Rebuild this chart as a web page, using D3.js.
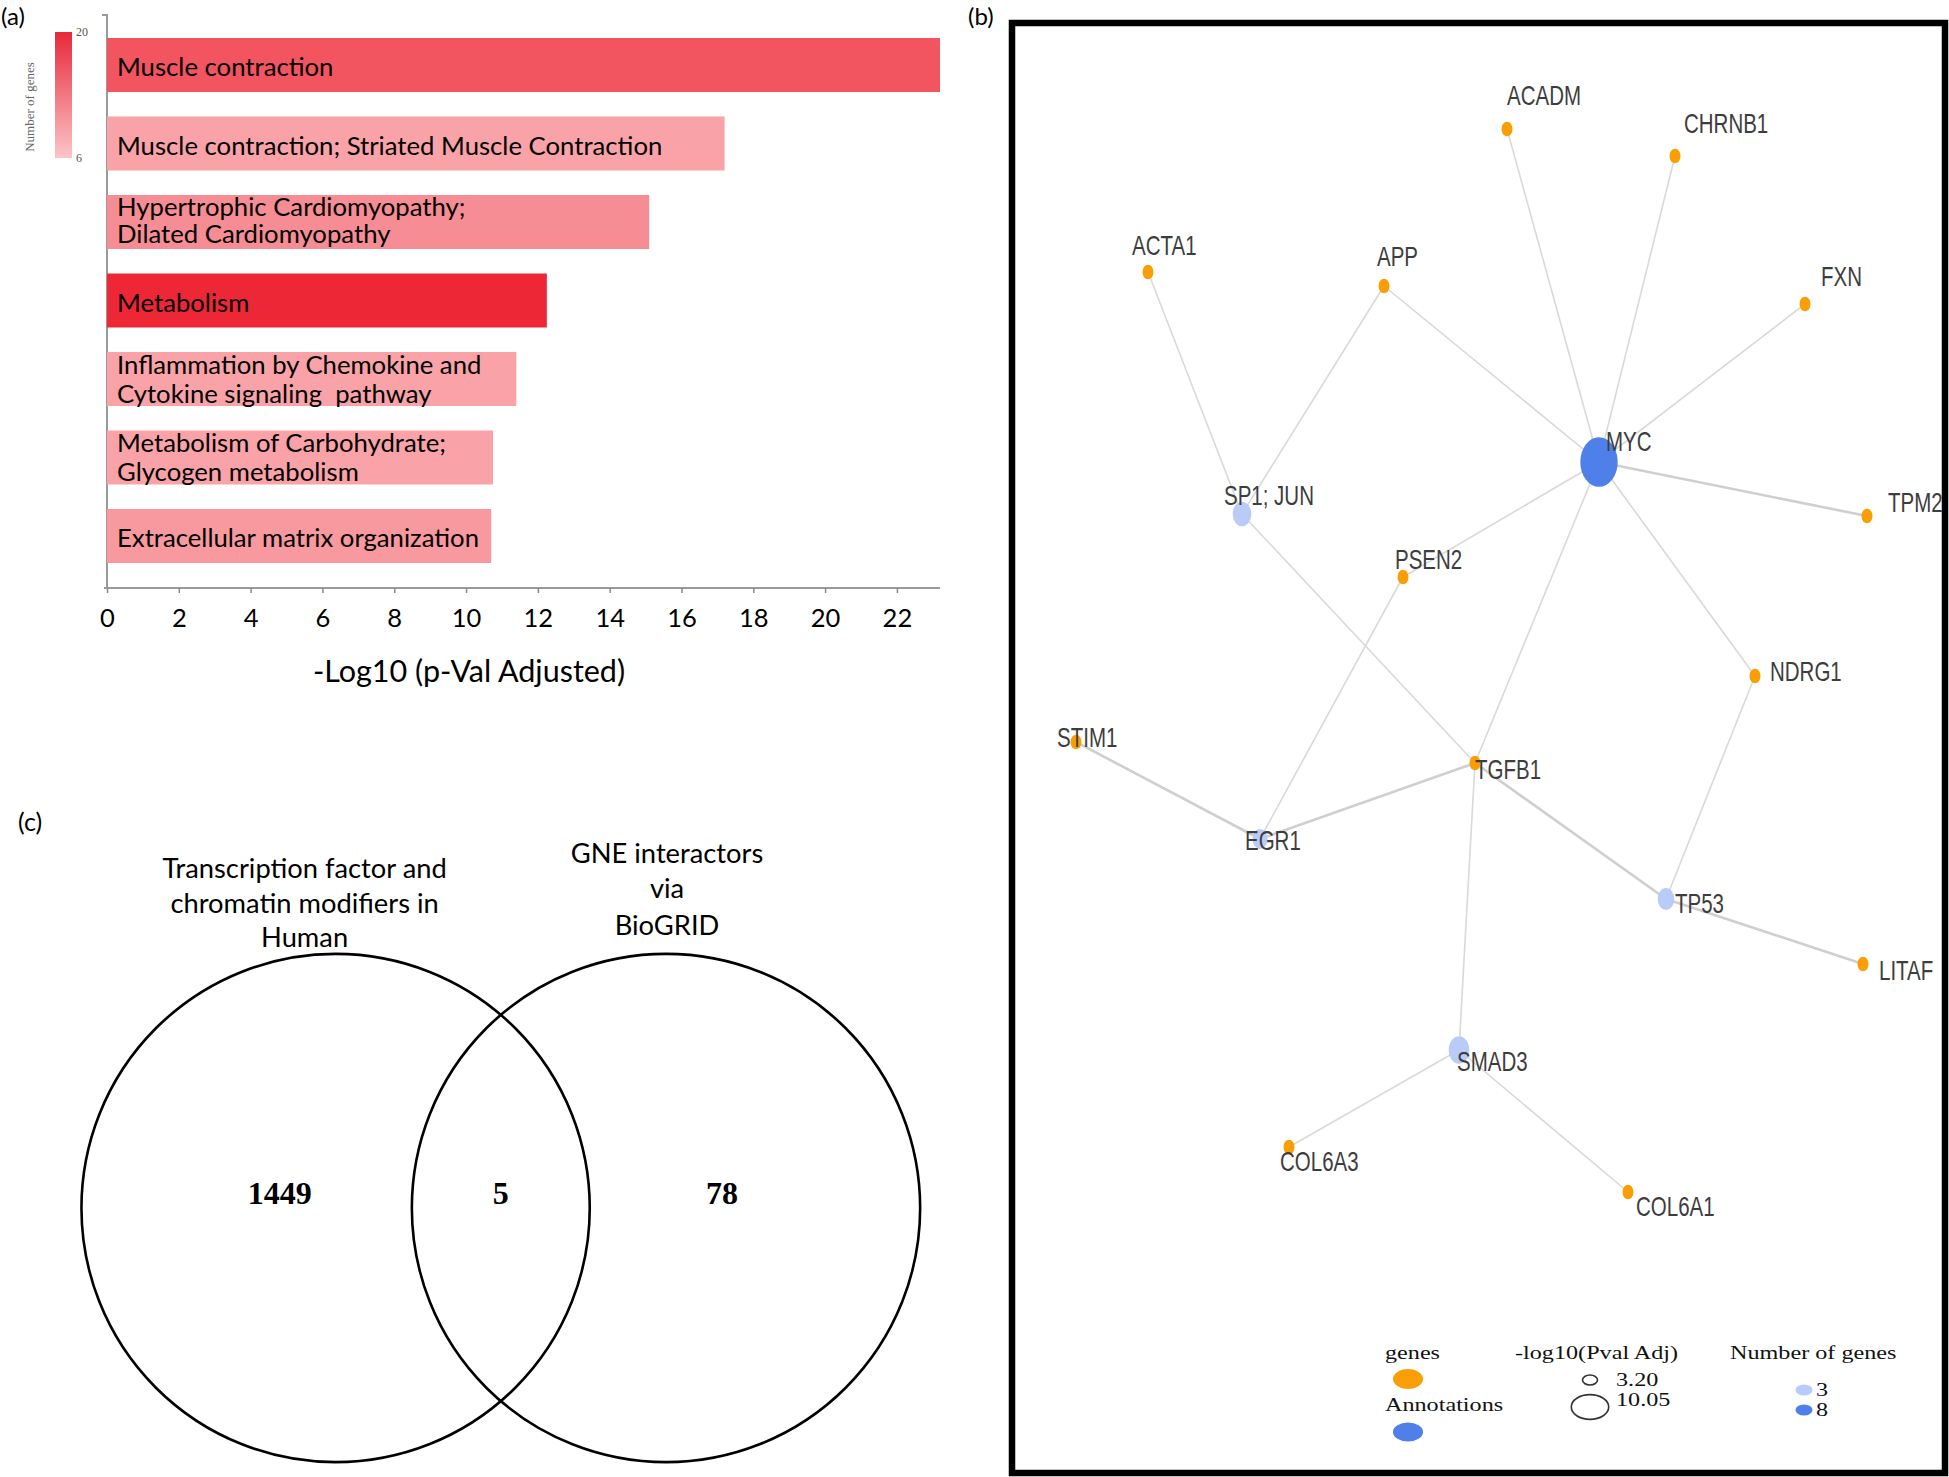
<!DOCTYPE html>
<html>
<head>
<meta charset="utf-8">
<script src="https://cdn.jsdelivr.net/npm/d3@7"></script>
<style>
  body { margin: 0; background: #fff; }
  svg { display: block; }
  .cal { font-family: Lato, "Open Sans", sans-serif; }
  .ser { font-family: "Liberation Serif", "DejaVu Serif", serif; }
  .ari { font-family: "Liberation Sans", Arial, sans-serif; }
</style>
</head>
<body>
<svg id="chart" width="1949" height="1477"></svg>
<script>
// ---------------- DATA ----------------
// (a) pathway enrichment
const pathwayLabels = [
  ["Muscle contraction"],
  ["Muscle contraction; Striated Muscle Contraction"],
  ["Hypertrophic Cardiomyopathy;", "Dilated Cardiomyopathy"],
  ["Metabolism"],
  ["Inflammation by Chemokine and", "Cytokine signaling  pathway"],
  ["Metabolism of Carbohydrate;", "Glycogen metabolism"],
  ["Extracellular matrix organization"]
];
const pathwayScores = [23.2, 17.2, 15.1, 12.25, 11.4, 10.75, 10.7];
const pathwayGeneCounts = [16, 9, 11, 20, 9, 9, 10];
const xTickValues = [0, 2, 4, 6, 8, 10, 12, 14, 16, 18, 20, 22];
const geneCountRange = [6, 20];
const xAxisTitle = "-Log10 (p-Val Adjusted)";

// (b) network
const netNodeNames = ["ACADM","CHRNB1","ACTA1","APP","FXN","MYC","TPM2","SP1; JUN","PSEN2",
  "NDRG1","STIM1","TGFB1","EGR1","TP53","LITAF","SMAD3","COL6A3","COL6A1"];
const netNodeType = ["gene","gene","gene","gene","gene","annotation","gene","annotation","gene",
  "gene","gene","gene","annotation","annotation","gene","annotation","gene","gene"];
// layout coordinates of the network drawing (units of the network canvas)
const netLayoutX = [493, 661, 134, 370, 791, 585, 853, 228, 389, 741, 62, 461, 246, 652, 849, 445, 275, 614];
const netLayoutY = [105, 132, 248, 262, 280, 438, 492, 490, 553, 652, 718, 739, 815, 875, 940, 1026, 1123, 1168];
const netEdges = [
  ["ACTA1","SP1; JUN",1], ["APP","SP1; JUN",1], ["APP","MYC",1], ["ACADM","MYC",1],
  ["CHRNB1","MYC",1], ["FXN","MYC",1], ["TPM2","MYC",2], ["PSEN2","MYC",1],
  ["MYC","TGFB1",1], ["MYC","NDRG1",1], ["SP1; JUN","TGFB1",1], ["PSEN2","EGR1",1],
  ["STIM1","EGR1",2], ["EGR1","TGFB1",2], ["TGFB1","TP53",2], ["NDRG1","TP53",1],
  ["TP53","LITAF",2], ["TGFB1","SMAD3",1], ["SMAD3","COL6A3",1], ["SMAD3","COL6A1",1]
];
const annotationNames = ["MYC", "SP1; JUN", "EGR1", "TP53", "SMAD3"];
const annotationPval = [10.05, 4.3, 3.2, 3.7, 4.9];
const annotationGenes = [8, 3, 3, 3, 3];
// label offsets (dx, dy) relative to the node
const netLabelDx = [0, 9, -16, -7, 16, 7, 21, -18, -8, 15, -19, 0, -15, 9, 16, -2, -9, 8];
const netLabelDy = [-24, -23, -17, -20, -18, -11, -4, -9, -8, 5, 5, 16, 11, 14, 16, 21, 24, 24];
const legendPvalValues = [3.20, 10.05];
const legendPvalText = ["3.20", "10.05"];
const legendGeneValues = [3, 8];

// (c) venn
const vennTitles = [["Transcription factor and", "chromatin modifiers in", "Human"],
                    ["GNE interactors", "via", "BioGRID"]];
const vennCounts = [1449, 5, 78];

// ---------------- DRAW ----------------
const svg = d3.select("#chart");

// ===== Panel (a) =====
const gA = svg.append("g");
const x = d3.scaleLinear().domain([0, 23.2]).range([107, 940]);
const y = d3.scaleBand().domain(d3.range(pathwayLabels.length)).range([38, 563]).paddingInner(0.312).paddingOuter(0);
const barColor = d3.scaleLinear().domain(geneCountRange).range(["#FCC5C8", "#EE2737"]);

gA.append("text").attr("class", "cal").attr("x", 1).attr("y", 25).attr("font-size", 24).text("(a)");

// y axis line
const axisBottomY = 588;
gA.append("path")
  .attr("d", `M${x(0) - 5},${y.range()[0] - 23}H${x(0)}V${axisBottomY}`)
  .attr("fill", "none").attr("stroke", "#9a9a9a").attr("stroke-width", 2);

// bars
gA.selectAll("rect.bar").data(pathwayScores).join("rect")
  .attr("class", "bar")
  .attr("x", x(0)).attr("y", (d, i) => y(i))
  .attr("width", d => x(d) - x(0)).attr("height", y.bandwidth())
  .attr("fill", (d, i) => barColor(pathwayGeneCounts[i]));

// bar labels
pathwayLabels.forEach((lines, i) => {
  const cy = y(i) + y.bandwidth() / 2;
  const t = gA.append("text").attr("class", "cal").attr("font-size", 25.7).attr("fill", "#000")
    .style("white-space", "pre");
  if (lines.length === 1) {
    t.append("tspan").attr("x", x(0) + 10).attr("y", cy + 11).text(lines[0]);
  } else {
    const gap = i === 2 ? 27 : 29;
    const top = i === 2 ? cy - 6 : cy - 5;
    t.append("tspan").attr("x", x(0) + 10).attr("y", top).text(lines[0]);
    t.append("tspan").attr("x", x(0) + 10).attr("y", top + gap).text(lines[1]);
  }
});

// x axis
const xAxis = gA.append("g").attr("transform", `translate(0,${axisBottomY})`)
  .call(d3.axisBottom(x).tickValues(xTickValues).tickSize(5).tickSizeOuter(0).tickPadding(16));
xAxis.select(".domain").attr("stroke", "#9a9a9a").attr("stroke-width", 2)
  .attr("d", `M${x(0) - 3},0H${x.range()[1]}`);
xAxis.selectAll(".tick line").attr("stroke", "#8a8a8a").attr("stroke-width", 1.5);
xAxis.selectAll(".tick text").attr("class", "cal").attr("font-size", 25.5).attr("fill", "#000");
gA.append("text").attr("class", "cal").attr("x", 469).attr("y", 682)
  .attr("text-anchor", "middle").attr("font-size", 30.5).text(xAxisTitle);

// colour legend
const defs = svg.append("defs");
const grad = defs.append("linearGradient").attr("id", "gcGrad").attr("x1", 0).attr("y1", 1).attr("x2", 0).attr("y2", 0);
grad.append("stop").attr("offset", "0%").attr("stop-color", barColor(geneCountRange[0]));
grad.append("stop").attr("offset", "100%").attr("stop-color", "#E8283A");
const legY = d3.scaleLinear().domain(geneCountRange).range([158, 32]);
gA.append("rect").attr("x", 55).attr("y", legY(geneCountRange[1])).attr("width", 17)
  .attr("height", legY(geneCountRange[0]) - legY(geneCountRange[1])).attr("fill", "url(#gcGrad)");
gA.selectAll("text.legtick").data(geneCountRange).join("text")
  .attr("class", "ser legtick").attr("x", 76).attr("y", d => legY(d) + 4)
  .attr("font-size", 12).attr("fill", "#555").text(d => d);
gA.append("text").attr("class", "ser").attr("transform", "translate(34,107) rotate(-90)")
  .attr("text-anchor", "middle").attr("font-size", 13).attr("fill", "#666").text("Number of genes");

// ===== Panel (b) =====
const gB = svg.append("g");
gB.append("text").attr("class", "cal").attr("x", 968).attr("y", 25).attr("font-size", 24).text("(b)");
gB.append("rect").attr("x", 1012).attr("y", 23).attr("width", 933).attr("height", 1450)
  .attr("fill", "none").attr("stroke", "#000").attr("stroke-width", 6.5);

const nx = d3.scaleLinear().domain([0, 931]).range([1014, 1945]);
const ny = d3.scaleLinear().domain([0, 1449]).range([24, 1473]);
const nodeSize = d3.scaleLinear().domain([3.2, 10.05]).range([7.5, 18.7]);
const nodeBlue = d3.scaleLinear().domain([3, 8]).range(["#B9CCF7", "#4F7FE8"]);
const geneOrange = "#FA9E05";
const idx = name => netNodeNames.indexOf(name);

gB.selectAll("line.edge").data(netEdges).join("line")
  .attr("class", "edge")
  .attr("x1", d => nx(netLayoutX[idx(d[0])])).attr("y1", d => ny(netLayoutY[idx(d[0])]))
  .attr("x2", d => nx(netLayoutX[idx(d[1])])).attr("y2", d => ny(netLayoutY[idx(d[1])]))
  .attr("stroke", d => d[2] === 2 ? "#cfcfcf" : "#d9d9d9")
  .attr("stroke-width", d => d[2] === 2 ? 2.6 : 1.6);

gB.selectAll("ellipse.node").data(netNodeNames).join("ellipse")
  .attr("class", "node")
  .attr("cx", (d, i) => nx(netLayoutX[i])).attr("cy", (d, i) => ny(netLayoutY[i]))
  .attr("rx", (d, i) => netNodeType[i] === "gene" ? 5.5 : nodeSize(annotationPval[annotationNames.indexOf(d)]))
  .attr("ry", (d, i) => (netNodeType[i] === "gene" ? 5.5 : nodeSize(annotationPval[annotationNames.indexOf(d)])) * 1.33)
  .attr("fill", (d, i) => netNodeType[i] === "gene" ? geneOrange : nodeBlue(annotationGenes[annotationNames.indexOf(d)]));

gB.selectAll("text.nlab").data(netNodeNames).join("text")
  .attr("class", "ari nlab")
  .attr("transform", (d, i) => `translate(${nx(netLayoutX[i]) + netLabelDx[i]},${ny(netLayoutY[i]) + netLabelDy[i]}) scale(1,1.33)`)
  .attr("font-size", 20.5).attr("fill", "#3d3d3d").text(d => d);

// network legend
const lg = gB.append("g");
const legText = (txt, lx, ly) => lg.append("text").attr("class", "ser")
  .attr("transform", `translate(${lx},${ly}) scale(1.24,1)`).attr("font-size", 19.5).attr("fill", "#111").text(txt);
legText("genes", 1385, 1359);
lg.append("ellipse").attr("cx", 1408).attr("cy", 1379).attr("rx", 15).attr("ry", 10).attr("fill", geneOrange);
legText("Annotations", 1385, 1411);
lg.append("ellipse").attr("cx", 1408).attr("cy", 1432).attr("rx", 15).attr("ry", 9.5).attr("fill", nodeBlue(8));
legText("-log10(Pval Adj)", 1515, 1359);
legendPvalValues.forEach((v, i) => {
  const cy = [1380, 1407][i];
  const r = nodeSize(v);
  lg.append("ellipse").attr("cx", 1590).attr("cy", cy).attr("rx", r).attr("ry", r * 0.66)
    .attr("fill", "none").attr("stroke", "#333").attr("stroke-width", 1.6);
  legText(legendPvalText[i], 1616, [1386, 1406][i]);
});
legText("Number of genes", 1730, 1359);
legendGeneValues.forEach((v, i) => {
  const cy = [1390, 1410][i];
  lg.append("ellipse").attr("cx", 1804).attr("cy", cy).attr("rx", 8.5).attr("ry", 5.5).attr("fill", nodeBlue(v));
  legText(String(v), 1816, cy + 6);
});

// ===== Panel (c) =====
const gC = svg.append("g");
gC.append("text").attr("class", "cal").attr("x", 18).attr("y", 831).attr("font-size", 25).text("(c)");
const vx = d3.scaleLinear().domain([0, 1.3]).range([335.6, 666]);
const vr = vx(1) - vx(0);
const vcy = 1208;
const vennCentres = [0, 1.3];
gC.selectAll("circle.venn").data(vennCentres).join("circle")
  .attr("class", "venn").attr("cx", d => vx(d)).attr("cy", vcy).attr("r", vr)
  .attr("fill", "none").attr("stroke", "#000").attr("stroke-width", 2.6);
const countPos = [vx(0) - 0.22 * vr, (vx(0) + vx(1.3)) / 2, vx(1.3) + 0.22 * vr];
gC.selectAll("text.vcount").data(vennCounts).join("text")
  .attr("class", "ser vcount").attr("x", (d, i) => countPos[i]).attr("y", vcy - 4)
  .attr("text-anchor", "middle").attr("font-size", 32).attr("font-weight", "bold").text(d => d);
const titleX = [vx(0) - 31, vx(1.3) + 1];
const titleY = [[878, 913, 947], [863, 898, 935]];
vennTitles.forEach((lines, k) => {
  lines.forEach((ln, j) => {
    gC.append("text").attr("class", "cal").attr("x", titleX[k]).attr("y", titleY[k][j])
      .attr("text-anchor", "middle").attr("font-size", 27.3).text(ln);
  });
});
</script>
</body>
</html>
